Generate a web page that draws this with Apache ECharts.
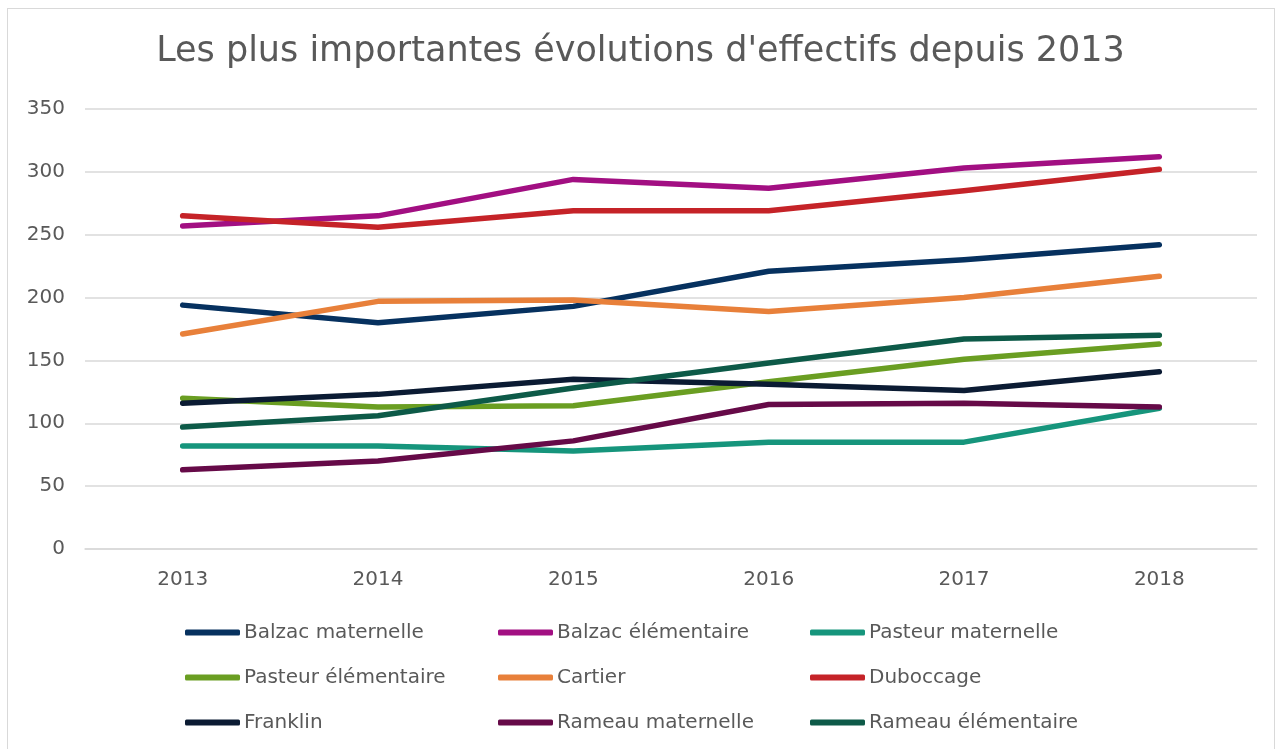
<!DOCTYPE html>
<html>
<head>
<meta charset="utf-8">
<script src="https://cdn.jsdelivr.net/npm/echarts@6/dist/echarts.min.js"></script>
<style>
  html, body { margin: 0; padding: 0; background: #fff; }
  #frame { position: absolute; left: 7px; top: 8px; width: 1268px; height: 750px; border: 1px solid #d9d9d9; box-sizing: border-box; }
  #chart { position: absolute; left: 0; top: 0; width: 1281px; height: 749px; }
</style>
</head>
<body>
<div id="frame"></div>
<div id="chart"></div>
<script>
// années
var years = ['2013', '2014', '2015', '2016', '2017', '2018'];
// effectifs par école
var balzacMat = [194, 180, 193, 221, 230, 242];
var balzacElem = [257, 265, 294, 287, 303, 312];
var pasteurMat = [82, 82, 78, 85, 85, 112];
var pasteurElem = [120, 113, 114, 133, 151, 163];
var cartier = [171, 197, 198, 189, 200, 217];
var duboccage = [265, 256, 269, 269, 285, 302];
var franklin = [116, 123, 135, 131, 126, 141];
var rameauMat = [63, 70, 86, 115, 116, 113];
var rameauElem = [97, 106, 128, 148, 167, 170];

var names = ['Balzac maternelle', 'Balzac élémentaire', 'Pasteur maternelle',
  'Pasteur élémentaire', 'Cartier', 'Duboccage',
  'Franklin', 'Rameau maternelle', 'Rameau élémentaire'];
var values = [balzacMat, balzacElem, pasteurMat, pasteurElem, cartier, duboccage, franklin, rameauMat, rameauElem];
var colors = ['#06315f', '#a20f82', '#16957c', '#6a9e22', '#e8803a', '#c52328', '#0b1b33', '#660a48', '#0d5a48'];

var fontFam = '"DejaVu Sans", sans-serif';
var textColor = '#595959';

var series = [];
for (var i = 0; i < names.length; i++) {
  series.push({
    name: names[i],
    type: 'line',
    data: values[i],
    symbol: 'none',
    color: colors[i],
    lineStyle: { width: 5.5, cap: 'round', join: 'round' }
  });
}

// une colonne de légende
function legendCol(left, items) {
  return {
    orient: 'vertical',
    left: left,
    top: 622,
    padding: 0,
    itemGap: 24,
    itemWidth: 55,
    itemHeight: 6,
    icon: 'roundRect',
    data: items,
    selectedMode: false,
    textStyle: { color: textColor, fontSize: 20, lineHeight: 21, fontFamily: fontFam, padding: [0, 0, 0, -1] }
  };
}

var myChart = echarts.init(document.getElementById('chart'));
var option = {
  animation: false,
  color: colors,
  title: {
    text: "Les plus importantes évolutions d'effectifs depuis 2013",
    left: 'center',
    top: 29,
    textStyle: { color: textColor, fontSize: 35, fontWeight: 'normal', fontFamily: fontFam }
  },
  legend: [
    legendCol(185, [names[0], names[3], names[6]]),
    legendCol(498, [names[1], names[4], names[7]]),
    legendCol(810, [names[2], names[5], names[8]])
  ],
  grid: { left: 85, right: 24, top: 109, bottom: 200 },
  xAxis: {
    type: 'category',
    data: years,
    axisLine: { lineStyle: { color: '#d9d9d9', width: 1.5 } },
    axisTick: { show: false },
    axisLabel: { color: textColor, fontSize: 20, fontFamily: fontFam, margin: 21 }
  },
  yAxis: {
    type: 'value',
    min: 0,
    max: 350,
    interval: 50,
    axisLine: { show: false },
    axisTick: { show: false },
    splitLine: { lineStyle: { color: '#d9d9d9', width: 1.5 } },
    axisLabel: { color: textColor, fontSize: 20, fontFamily: fontFam, margin: 20 }
  },
  series: series
};
myChart.setOption(option);
</script>
</body>
</html>
